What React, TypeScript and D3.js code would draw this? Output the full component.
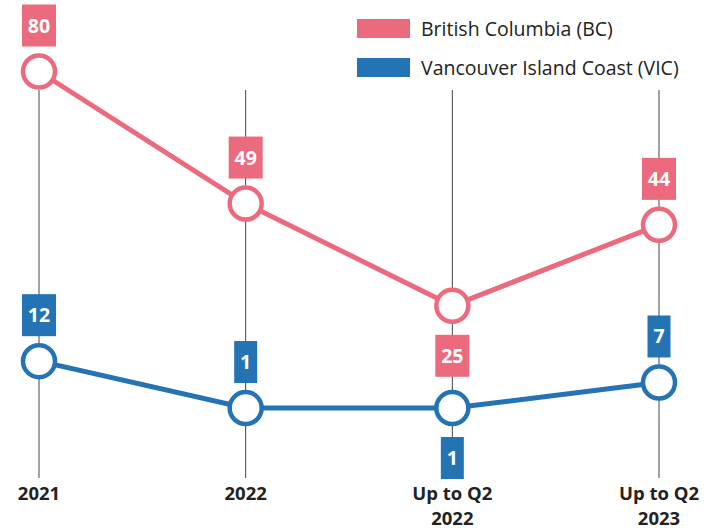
import React from 'react';
import * as d3 from 'd3';

// chart data
const categories = ['2021', '2022', 'Up to Q2|2022', 'Up to Q2|2023'];
const bcValues = [80, 49, 25, 44];
const vicValues = [12, 1, 1, 7];
const bcLabelSide = ['above', 'above', 'below', 'above'];
const vicLabelSide = ['above', 'above', 'below', 'above'];
const seriesNames = ['British Columbia (BC)', 'Vancouver Island Coast (VIC)'];

const PINK = '#ec6a7e';
const BLUE = '#2473b5';
const FONT = '"Open Sans", "Noto Sans", sans-serif';

const width = 717;
const height = 531;

const x = d3.scalePoint<string>().domain(categories).range([39, 659]);
const y = d3.scaleLinear().domain([0, 80]).range([412.3, 71.5]);

const line = d3.line<number>()
  .x((d, i) => x(categories[i]) as number)
  .y(d => y(d));

function Series({ values, sides, color }: { values: number[]; sides: string[]; color: string }) {
  return (
    <g>
      <path d={line(values) || ''} fill="none" stroke={color} strokeWidth={5} />
      {values.map((v, i) => {
        const cx = x(categories[i]) as number;
        const cy = y(v);
        const txt = String(v);
        const bw = 11 * txt.length + 12;
        const bh = 42;
        const top = sides[i] === 'above' ? cy - 25 - bh : cy + 29;
        return (
          <g key={i}>
            <circle cx={cx} cy={cy} r={16} fill="#fff" stroke={color} strokeWidth={4.5} />
            <rect x={cx - bw / 2} y={top} width={bw} height={bh} fill={color} />
            <text x={cx} y={top + bh / 2 + 7} textAnchor="middle" fill="#fff"
              fontSize={19.5} fontWeight={700} fontFamily={FONT}>{txt}</text>
          </g>
        );
      })}
    </g>
  );
}

export default function App() {
  return (
    <svg width={width} height={height} style={{ position: 'absolute', left: 0, top: 0, background: '#fff' }}>
      {/* vertical guide lines */}
      {categories.map(c => (
        <line key={c} x1={x(c)} x2={x(c)} y1={90} y2={478} stroke="#444" strokeWidth={1} />
      ))}
      {/* category labels */}
      {categories.map(c => (
        <text key={c} x={x(c)} y={500} textAnchor="middle" fill="#222"
          fontSize={18.5} fontWeight={700} fontFamily={FONT}>
          {c.split('|').map((part, j) => (
            <tspan key={j} x={x(c)} dy={j === 0 ? 0 : 25}>{part}</tspan>
          ))}
        </text>
      ))}
      <Series values={bcValues} sides={bcLabelSide} color={PINK} />
      <Series values={vicValues} sides={vicLabelSide} color={BLUE} />
      {/* legend */}
      {seriesNames.map((name, i) => (
        <g key={name} transform={`translate(357, ${19 + i * 39})`}>
          <rect x={0} y={0} width={53} height={19} fill={i === 0 ? PINK : BLUE} />
          <text x={64} y={17} fill="#222" fontSize={19.5} fontWeight={500} fontFamily={FONT}>{name}</text>
        </g>
      ))}
    </svg>
  );
}
